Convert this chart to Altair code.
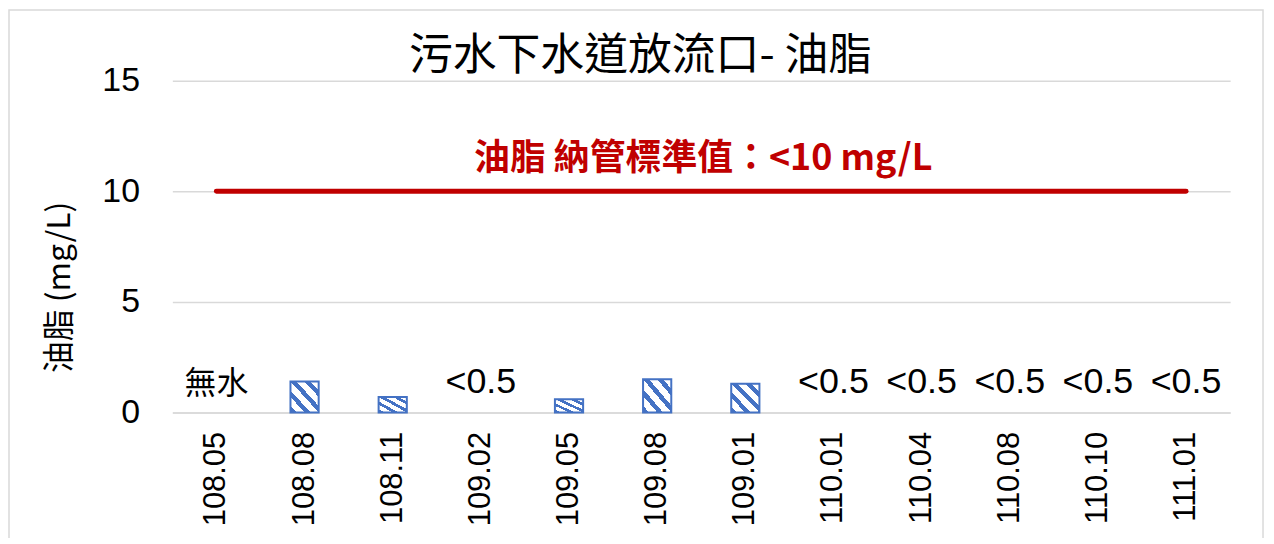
import altair as alt
import pandas as pd

categories = ["108.05", "108.08", "108.11", "109.02", "109.05", "109.08",
              "109.01", "110.01", "110.04", "110.08", "110.10", "111.01"]
values = [None, 1.4, 0.7, None, 0.6, 1.5, 1.3, None, None, None, None, None]
notes = ["無水", "", "", "<0.5", "", "", "", "<0.5", "<0.5", "<0.5", "<0.5", "<0.5"]
limit_value = 10
limit_label = "油脂 納管標準值：<10 mg/L"
title_text = "污水下水道放流口- 油脂"
y_title = "油脂 (mg/L)"

df = pd.DataFrame({"cat": categories, "val": values, "note": notes})
df["zero"] = 0
bars_df = df.dropna(subset=["val"])
notes_df = df[df["note"] != ""]
cjk_df = notes_df[notes_df["note"] == "無水"]
lt_df = notes_df[notes_df["note"] != "無水"]

BLUE = "#4472C4"
n = 4
stops = []
for i in range(n):
    a = i / n
    b = (i + 0.42) / n
    c = (i + 1) / n
    stops += [
        {"offset": a, "color": BLUE},
        {"offset": b, "color": BLUE},
        {"offset": b, "color": "#FFFFFF"},
        {"offset": c, "color": "#FFFFFF"},
    ]
hatch = alt.Gradient(gradient="linear", stops=stops, x1=0, y1=1, x2=1, y2=0)

x_scale = alt.Scale(domain=categories, paddingInner=0.68, paddingOuter=0.34)
y_scale = alt.Scale(domain=[0, 15], nice=False)

x_enc = alt.X("cat:N", scale=x_scale, title=None,
              axis=alt.Axis(labelAngle=-90, labelFontSize=31, labelPadding=19,
                            ticks=False, domainColor="#D9D9D9", domainWidth=1.5,
                            labelFont="Liberation Sans", labelColor="#000000",
                            labelAlign="right", labelBaseline="middle"))

bars = alt.Chart(bars_df).mark_bar(fill=hatch, stroke=BLUE, strokeWidth=2).encode(
    x=x_enc,
    y=alt.Y("val:Q", scale=y_scale, title=y_title,
            axis=alt.Axis(values=[0, 5, 10, 15], labelFontSize=34, labelPadding=33,
                          ticks=False, domain=False, gridColor="#D9D9D9",
                          gridWidth=1.5, labelFont="Liberation Sans",
                          labelColor="#000000", titleFont="Noto Sans CJK TC",
                          titleFontSize=32, titleFontWeight="normal",
                          titleColor="#000000", titleX=-113, titleY=207,
                          titleAngle=-90, titleAlign="center",
                          titleBaseline="middle")),
)

frame = alt.Chart(pd.DataFrame({"k": [0]})).mark_rect(
    fill=None, stroke="#D9D9D9", strokeWidth=1.5).encode(
    x=alt.value(-164), x2=alt.value(1095), y=alt.value(-71), y2=alt.value(470))

rule = alt.Chart(pd.DataFrame({"a": [categories[0]], "b": [categories[-1]],
                               "y": [limit_value]})).mark_rule(
    color="#C00000", strokeWidth=5, strokeCap="round").encode(
    x=alt.X("a:N", scale=x_scale), x2="b:N", y=alt.Y("y:Q", scale=y_scale))

limit_text = alt.Chart(pd.DataFrame({"t": [limit_label], "y": [limit_value]})).mark_text(
    color="#C00000", fontSize=36, fontWeight="bold", font="Noto Sans CJK TC",
    baseline="bottom", dy=-13).encode(
    x=alt.value(533), y=alt.Y("y:Q", scale=y_scale), text="t:N")

cjk_text = alt.Chart(cjk_df).mark_text(
    fontSize=32, font="Noto Sans CJK TC", color="#000000", baseline="bottom",
    dy=-12).encode(
    x=alt.X("cat:N", scale=x_scale), y=alt.Y("zero:Q", scale=y_scale), text="note:N")

lt_text = alt.Chart(lt_df).mark_text(
    fontSize=36, font="Liberation Sans", color="#000000", baseline="bottom",
    dy=-12).encode(
    x=alt.X("cat:N", scale=x_scale), y=alt.Y("zero:Q", scale=y_scale), text="note:N")

chart = alt.layer(frame, bars, rule, limit_text, cjk_text, lt_text).properties(
    width=1062, height=333,
    background="#FFFFFF",
    title=alt.TitleParams(title_text, font="Noto Sans CJK TC", fontSize=44,
                          fontWeight="normal", color="#000000", anchor="middle",
                          frame="group", dx=-61, dy=78, offset=8),
    autosize=alt.AutoSizeParams(type="none"),
    padding={"left": 165, "top": 72, "right": 36, "bottom": 125},
).configure_view(stroke=None)

chart.save("out.html", embed_options={"renderer": "svg", "actions": False})
